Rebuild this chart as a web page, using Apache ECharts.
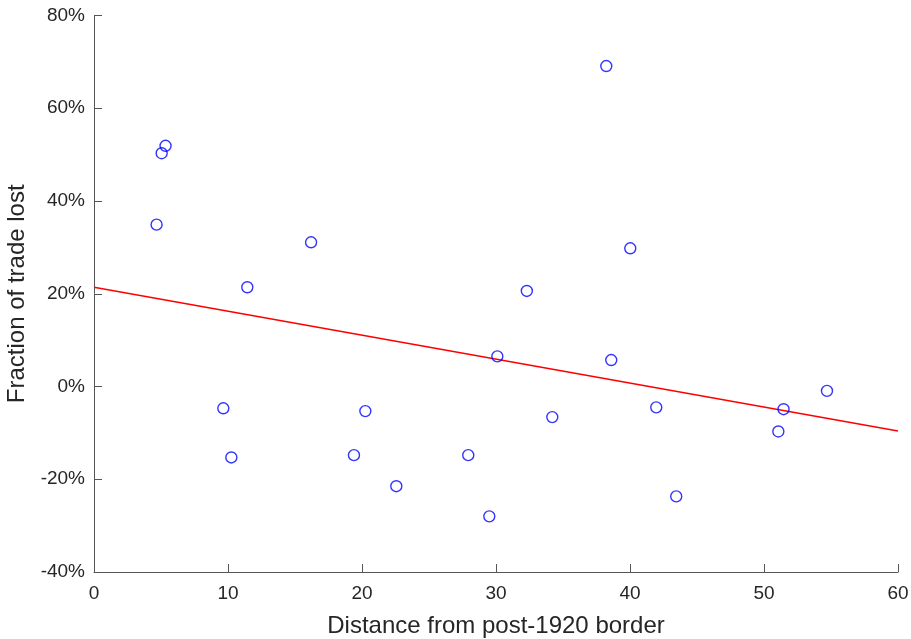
<!DOCTYPE html>
<html>
<head>
<meta charset="utf-8">
<script src="https://cdn.jsdelivr.net/npm/echarts@6/dist/echarts.min.js"></script>
<style>
  html, body { margin: 0; padding: 0; background: #fff; }
  #chart { width: 911px; height: 639px; }
</style>
</head>
<body>
<div id="chart"></div>
<script>
// distance from border (x) and fraction of trade lost in % (y)
var distance = [4.67, 5.05, 5.34, 9.65, 10.25, 11.44, 16.2, 19.4, 20.25, 22.56, 27.93,
  29.5, 30.1, 32.3, 34.2, 38.23, 38.6, 40.02, 41.96, 43.45, 51.07, 51.46, 54.7];
var tradeLost = [34.9, 50.3, 51.9, -4.7, -15.3, 21.4, 31.1, -14.8, -5.3, -21.5, -14.8,
  -28.0, 6.5, 20.6, -6.6, 69.1, 5.7, 29.8, -4.5, -23.7, -9.7, -4.9, -0.95];

// fitted line end points
var fitX = [0, 60];
var fitY = [21.4, -9.6];

var points = distance.map(function (d, i) { return [d, tradeLost[i]]; });
var fit = fitX.map(function (d, i) { return [d, fitY[i]]; });

var axisColor = '#262626';
var font = 'Liberation Sans, Arial, sans-serif';

var chart = echarts.init(document.getElementById('chart'));
chart.setOption({
  animation: false,
  backgroundColor: '#fff',
  grid: { left: 94, right: 13, top: 15.5, bottom: 67, containLabel: false, outerBoundsMode: 'none' },
  xAxis: {
    type: 'value',
    min: 0, max: 60, interval: 10,
    name: 'Distance from post-1920 border',
    nameLocation: 'middle',
    nameGap: 42,
    nameTextStyle: { color: axisColor, fontSize: 24, fontFamily: font },
    axisLine: { onZero: false, lineStyle: { color: '#555', width: 1 } },
    axisTick: { inside: true, length: 8, lineStyle: { color: '#555' } },
    axisLabel: { color: axisColor, fontSize: 19, fontFamily: font, margin: 12 },
    splitLine: { show: false }
  },
  yAxis: {
    type: 'value',
    min: -40, max: 80, interval: 20,
    name: 'Fraction of trade lost',
    nameLocation: 'middle',
    nameGap: 61,
    nameTextStyle: { color: axisColor, fontSize: 24, fontFamily: font },
    axisLine: { show: true, onZero: false, lineStyle: { color: '#555', width: 1 } },
    axisTick: { show: true, inside: true, length: 8, lineStyle: { color: '#555' } },
    axisLabel: { color: axisColor, fontSize: 19, fontFamily: font, margin: 9, formatter: '{value}%' },
    splitLine: { show: false }
  },
  series: [
    {
      type: 'line',
      data: fit,
      symbol: 'none',
      lineStyle: { color: '#ff0000', width: 1.5 },
      z: 2
    },
    {
      type: 'scatter',
      data: points,
      symbol: 'circle',
      symbolSize: 11,
      itemStyle: { color: 'rgba(0,0,0,0)', borderColor: '#0000ff', borderWidth: 1.4 },
      z: 3
    }
  ]
});
</script>
</body>
</html>
